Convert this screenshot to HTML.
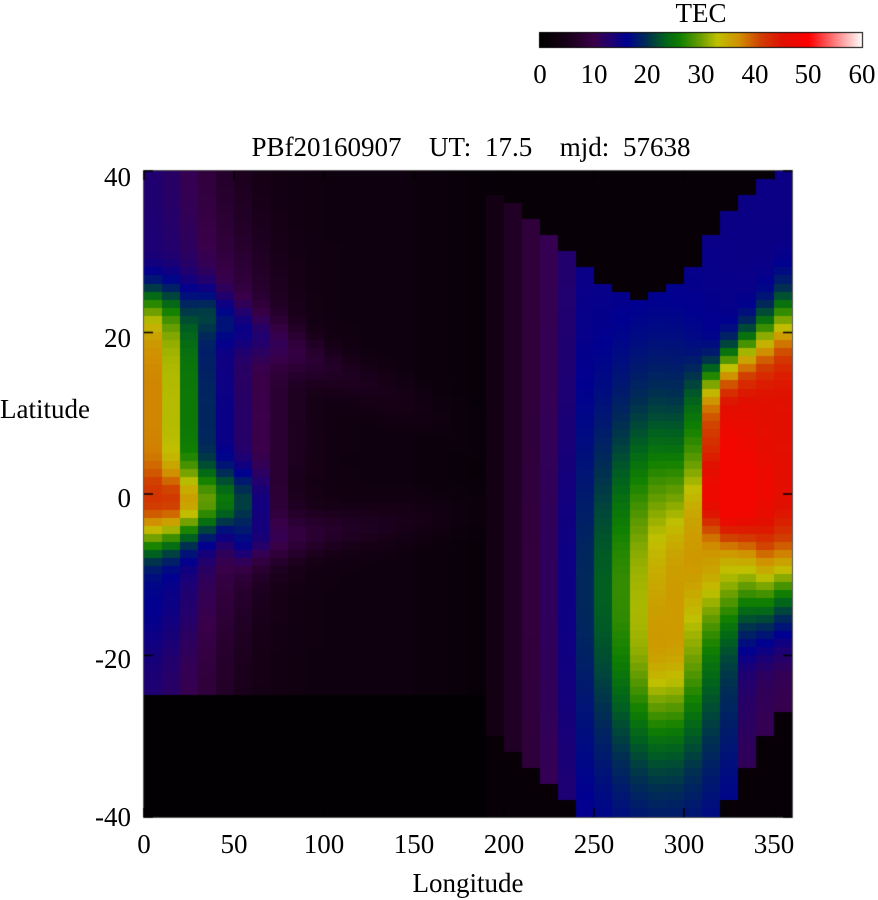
<!DOCTYPE html>
<html><head><meta charset="utf-8"><style>
body{margin:0;background:#fff;width:878px;height:900px;overflow:hidden;position:relative;font-family:"Liberation Serif",serif;color:#000}
.t{position:absolute;font-size:27px;white-space:nowrap;line-height:1}
.c{transform:translateX(-50%)}
.r{transform:translateX(-100%)}
</style></head><body>
<canvas id="c" width="878" height="900" style="position:absolute;left:0;top:0"></canvas>
<div class="t c" style="left:701px;top:0px">TEC</div>
<div class="t c" style="left:540px;top:61px">0</div>
<div class="t c" style="left:594px;top:61px">10</div>
<div class="t c" style="left:647px;top:61px">20</div>
<div class="t c" style="left:701px;top:61px">30</div>
<div class="t c" style="left:755px;top:61px">40</div>
<div class="t c" style="left:808px;top:61px">50</div>
<div class="t c" style="left:862px;top:61px">60</div>
<div class="t c" style="left:471px;top:134px;word-spacing:7px">PBf20160907&nbsp; UT: 17.5&nbsp; mjd: 57638</div>
<div class="t r" style="left:131px;top:164px">40</div>
<div class="t r" style="left:131px;top:325px">20</div>
<div class="t r" style="left:131px;top:485px">0</div>
<div class="t r" style="left:131px;top:646px">-20</div>
<div class="t r" style="left:131px;top:804px">-40</div>
<div class="t" style="left:0px;top:396px">Latitude</div>
<div class="t c" style="left:144px;top:831px">0</div>
<div class="t c" style="left:234px;top:831px">50</div>
<div class="t c" style="left:324px;top:831px">100</div>
<div class="t c" style="left:414px;top:831px">150</div>
<div class="t c" style="left:504px;top:831px">200</div>
<div class="t c" style="left:594px;top:831px">250</div>
<div class="t c" style="left:684px;top:831px">300</div>
<div class="t c" style="left:774px;top:831px">350</div>
<div class="t c" style="left:468px;top:870px">Longitude</div>
<script>
var cv=document.getElementById('c'),g=cv.getContext('2d');
var st=[[0,0,0,0],[5,0x18,0,0x18],[10,0x3a,0,0x4a],[13,0x20,0,0x70],[16,0,0,0x90],[20,0,0x30,0x50],[23,0,0x60,0x20],[26,0x10,0x80,0],[30,0x70,0xa0,0],[33,0xc0,0xc0,0],[37,0xd0,0x90,0],[41,0xd0,0x40,0],[45,0xe0,0x10,0],[50,0xff,0,0],[55,0xff,0x80,0x80],[60,0xff,0xff,0xff]];
function col(v){v=Math.max(0,Math.min(60,v));for(var i=1;i<st.length;i++){if(v<=st[i][0]){var a=st[i-1],b=st[i],f=(v-a[0])/(b[0]-a[0]);return 'rgb('+[1,2,3].map(function(k){return Math.round(a[k]+(b[k]-a[k])*f)}).join(',')+')';}}return '#fff';}
function G(x,y,cx,cy,sx,sy){return Math.exp(-((x-cx)*(x-cx))/(2*sx*sx)-((y-cy)*(y-cy))/(2*sy*sy));}
var topL={190:37.2,200:36.2,210:34,220:32,230:30,240:28,250:26.3,260:25.3,270:24.3,280:25.3,290:26.3,300:28,310:32,320:35,330:37.2,340:39,350:40};
var botL={190:-30.2,200:-32,210:-34,220:-36,230:-38,240:-40,250:-40,260:-40,270:-40,280:-40,290:-40,300:-40,310:-40,320:-38,330:-34,340:-30,350:-27.3};
function val(lon,lat){
 var c=lon-5,v;
 if(c<190){
  if(lat<-25)return 0.5;
  v=3+10*Math.exp(-lon*lon/(2*30*30));
  if(lon>140)v-=(lon-140)*0.03;
  v+=24*Math.exp(-lon*lon/(2*20*20))*Math.exp(-Math.pow((lat-9)/16,6));
  v+=12*Math.exp(-Math.pow((lon-35)/32,4))*Math.exp(-Math.pow((lat+1)/4,2));
  v+=7*G(lon,lat,50,10,25,14);
  var b1=22-(lon-40)*0.1;v+=5*Math.exp(-Math.pow((lat-b1)/3,2))*(lon>30&&lon<190?1:0)*Math.max(0,1-(lon-40)/160);
  var b2=-6+(lon-60)*0.03;v+=5*Math.exp(-Math.pow((lat-b2)/3,2))*(lon>50&&lon<190?1:0)*Math.max(0,1-(lon-60)/150);
  v+=3*Math.exp(-Math.pow((lat+12)/8,2))*Math.exp(-lon*lon/(2*25*25));
  return Math.max(1,v);
 }
 if(lat>topL[c]||lat<botL[c])return 1.5;
 var base=c<240?4+(c-190)*0.22:15;
 if(c>=330&&lat<-10)base-=Math.min(5,(-10-lat)*0.4);
 v=base+19*G(lon,lat,288,-12,25,15)+5*G(lon,lat,290,-21,10,5)+11*G(lon,lat,320,-7,15,6)+12*G(lon,lat,348,-10,12,5);
 var f=Math.max(0,Math.min(1,(lon-315)/40));
 var lo=-4-4*f,hi=15+8*f,cc=(lo+hi)/2,hw=(hi-lo)/2;
 v+=30*Math.exp(-Math.pow((lon-345)/36,6))*Math.exp(-Math.pow((lat-cc)/hw,4));
 return Math.min(v,48);
}
for(var i=0;i<36;i++){for(var j=0;j<80;j++){var lon=i*10+5,lat=40-j-0.5;g.fillStyle=col(val(lon,lat));var y0=171+j*8.075;g.fillRect(144+i*18,Math.floor(y0),18,Math.ceil(y0+8.075)-Math.floor(y0));}}
g.strokeStyle='#555';g.lineWidth=1;g.strokeRect(143.5,170.5,649,647);
g.strokeStyle='#000';g.lineWidth=1.5;
[40,20,0,-20,-40].forEach(function(l){var y=171+(40-l)*8.075;g.beginPath();g.moveTo(144,y);g.lineTo(153,y);g.moveTo(792,y);g.lineTo(783,y);g.stroke();});
for(var l=0;l<=350;l+=50){var x=144+l*1.8;g.beginPath();g.moveTo(x,817);g.lineTo(x,808);g.moveTo(x,171);g.lineTo(x,180);g.stroke();}
for(var x=540;x<862;x++){g.fillStyle=col((x-540)/322*60);g.fillRect(x,33,1,14);}
g.strokeStyle='#000';g.lineWidth=1;g.strokeRect(539.5,32.5,323,15);
</script>
</body></html>
